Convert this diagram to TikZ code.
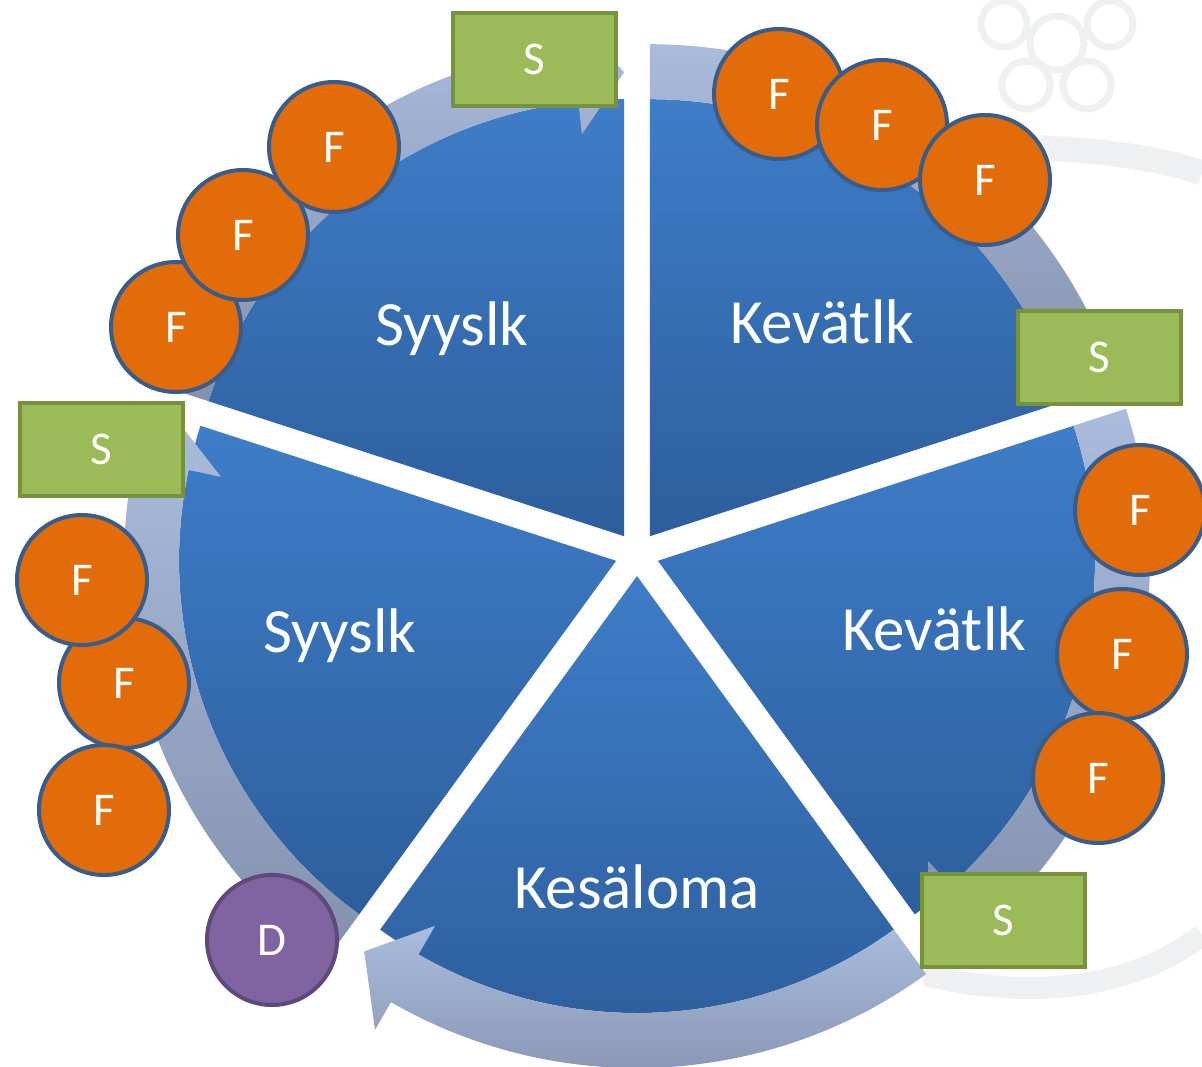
\documentclass[tikz,border=0pt]{standalone}
\usepackage{fontspec}
\setmainfont{Carlito}

\definecolor{segtop}{RGB}{62,125,200}
\definecolor{segbot}{RGB}{45,94,156}
\definecolor{bandtop}{RGB}{170,187,221}
\definecolor{bandbot}{RGB}{131,145,172}
\definecolor{forange}{RGB}{227,108,10}
\definecolor{fborder}{RGB}{56,93,138}
\definecolor{sgreen}{RGB}{155,187,89}
\definecolor{sborder}{RGB}{118,146,60}
\definecolor{dpurple}{RGB}{128,100,162}
\definecolor{dborder}{RGB}{95,73,122}
\definecolor{wmark}{RGB}{239,240,242}

% one pie slice around the local origin, from angle #1 to #2
\newcommand\pieslice[2]{%
  \path[slicefill] (0,0) -- (#1:437) arc[start angle=#1,end angle=#2,radius=437] -- cycle;}
% curved arrow band hugging a slice: tail at angle #2, head at angle #1 (clockwise)
\newcommand\cyclearrow[2]{%
  \path[bandfill] (#2:437) arc[start angle=#2,end angle=#1+6,radius=437]
    -- (#1+6:404) -- (#1:464) -- (#1+6:524) -- (#1+6:492)
    arc[start angle=#1+6,end angle=#2,radius=492] -- cycle;}

\begin{document}
\begin{tikzpicture}[x=1pt,y=1pt,
  slicefill/.style={top color=segtop,bottom color=segbot},
  bandfill/.style={top color=bandtop,bottom color=bandbot},
  slicetext/.style={text=white,font=\fontsize{63}{70}\selectfont,anchor=base,inner sep=0pt},
  fball/.style={circle,fill=forange,draw=fborder,line width=4pt,minimum size=130pt,
    inner sep=0pt,text=white,font=\fontsize{47}{54}\selectfont},
  dball/.style={fball,fill=dpurple,draw=dborder},
  sbox/.style={rectangle,fill=sgreen,draw=sborder,line width=4pt,minimum width=163pt,
    minimum height=93pt,inner sep=0pt,text=white,font=\fontsize{47}{54}\selectfont},
  wline/.style={draw=wmark,line width=7pt}]

\useasboundingbox (0,0) rectangle (1202,-1066);
\fill[white] (0,0) rectangle (1202,-1066);

% faint seal in the background
\draw[wline] (1057,-43) circle[radius=27];
\draw[wline] (1004,-24) circle[radius=23];
\draw[wline] (1110,-24) circle[radius=23];
\draw[wline] (1026,-85) circle[radius=24];
\draw[wline] (1087,-85) circle[radius=24];
\draw[wmark,line width=25pt] (1040,-148) .. controls (1100,-150) and (1160,-158) .. (1202,-173);
\draw[wmark,line width=22pt] (925,-975) .. controls (1030,-1000) and (1130,-990) .. (1202,-935);

\begin{scope}[shift={(637,-554)}]
% exploded pie
  \begin{scope}[shift={(54:22)}]  \pieslice{18}{90}   \end{scope}
  \begin{scope}[shift={(126:22)}] \pieslice{90}{162}  \end{scope}
  \begin{scope}[shift={(198:22)}] \pieslice{162}{234} \end{scope}
  \begin{scope}[shift={(270:22)}] \pieslice{234}{306} \end{scope}
  \begin{scope}[shift={(342:22)}] \pieslice{-54}{18}  \end{scope}
% arrows running round the cycle
  \begin{scope}[shift={(54:22)}]  \cyclearrow{18}{90}   \end{scope}
  \begin{scope}[shift={(126:22)}] \cyclearrow{90}{162}  \end{scope}
  \begin{scope}[shift={(198:22)}] \cyclearrow{162}{234} \end{scope}
  \begin{scope}[shift={(270:22)}] \cyclearrow{-126}{-54} \end{scope}
  \begin{scope}[shift={(342:22)}] \cyclearrow{-54}{18}  \end{scope}
\end{scope}

% slice titles
\node[slicetext] (tl) at (452,-345) {Syyslk};
\node[slicetext] (tr) at (822,-343) {Kevätlk};
\node[slicetext] (rt) at (934,-650) {Kevätlk};
\node[slicetext] (lt) at (340,-652) {Syyslk};
\node[slicetext] (bt) at (637,-908) {Kesäloma};

% S markers
\node[sbox] (s1) at (534,-59) {S};
\node[sbox] (s2) at (1099,-357) {S};
\node[sbox] (s3) at (101,-449) {S};
\node[sbox] (s4) at (1003,-920) {S};

% F markers, upper left
\node[fball] (f1) at (176,-327) {F};
\node[fball] (f2) at (243,-235) {F};
\node[fball] (f3) at (334,-147) {F};
% upper right
\node[fball] (f4) at (779,-94) {F};
\node[fball] (f5) at (882,-125) {F};
\node[fball] (f6) at (985,-180) {F};
% right
\node[fball] (f7) at (1140,-510) {F};
\node[fball] (f8) at (1122,-654) {F};
\node[fball] (f9) at (1098,-778) {F};
% left
\node[fball] (f11) at (124,-683) {F};
\node[fball] (f10) at (82,-580) {F};
\node[fball] (f12) at (104,-810) {F};

% D marker
\node[dball] (d1) at (272,-940) {D};
\end{tikzpicture}
\end{document}
